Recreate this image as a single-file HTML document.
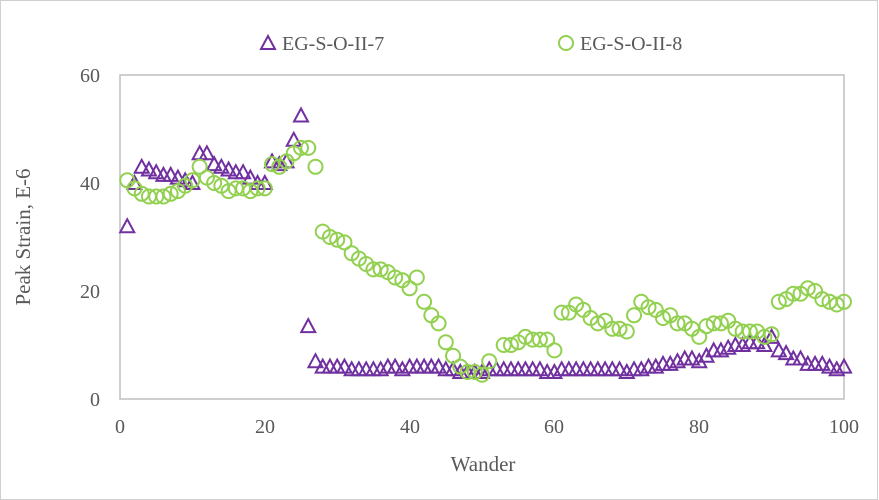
<!DOCTYPE html><html><head><meta charset="utf-8"><style>body{margin:0;background:#fff}svg{display:block}text{font-family:"Liberation Serif",serif;fill:#595959}</style></head><body>
<svg id="s" width="879" height="500" xmlns="http://www.w3.org/2000/svg">
<rect x="0.5" y="0.5" width="877" height="499" fill="#fff" stroke="#d0d0d0"/>
<rect x="120" y="75" width="724" height="324" fill="none" stroke="#bfbfbf" stroke-width="1.5"/>
<g font-size="20" text-anchor="end">
<text x="100" y="406">0</text><text x="100" y="298">20</text><text x="100" y="190">40</text><text x="100" y="82">60</text></g>
<g font-size="20" text-anchor="middle">
<text x="120" y="433">0</text><text x="265" y="433">20</text><text x="410" y="433">40</text><text x="554" y="433">60</text><text x="699" y="433">80</text><text x="844" y="433">100</text>
<text x="483" y="471" font-size="21">Wander</text></g>
<text transform="translate(30,237) rotate(-90)" font-size="21" text-anchor="middle">Peak Strain, E-6</text>
<path d="M268,36 L275,49 L261,49 Z" fill="none" stroke="#7030a0" stroke-width="2"/>
<text x="282" y="50" font-size="20">EG-S-O-II-7</text>
<circle cx="566" cy="43" r="7" fill="none" stroke="#92d050" stroke-width="2"/>
<text x="580" y="50" font-size="20">EG-S-O-II-8</text>
<g id="g"></g>
</svg>
<script>
var t=[32,40,43,42.5,42,41.5,41.5,41,40.5,40,45.5,45.5,43.5,43,42.5,42,42,41,40,40,44,43.5,44,48,52.5,13.5,7,6,6,6,6,5.5,5.5,5.5,5.5,5.5,6,6,5.5,6,6,6,6,6,5.5,5.5,5,5,5,5,5.5,5.5,5.5,5.5,5.5,5.5,5.5,5.5,5,5,5.5,5.5,5.5,5.5,5.5,5.5,5.5,5.5,5.5,5,5.5,5.5,6,6,6.5,6.5,7,7.5,7.5,7,8,9,9,9.5,10,10,10.5,10.5,10,11.5,9,8.5,7.5,7.5,6.5,6.5,6.5,6,5.5,6];
var c=[40.5,39,38,37.5,37.5,37.5,38,38.5,39.5,40.5,43,41,40,39.5,38.5,39,39,38.5,39,39,43.5,43,44,45.5,46.5,46.5,43,31,30,29.5,29,27,26,25,24,24,23.5,22.5,22,20.5,22.5,18,15.5,14,10.5,8,6,5,5,4.5,7,null,10,10,10.5,11.5,11,11,11,9,16,16,17.5,16.5,15,14,14.5,13,13,12.5,15.5,18,17,16.5,15,15.5,14,14,13,11.5,13.5,14,14,14.5,13,12.5,12.5,12.5,11.5,12,18,18.5,19.5,19.5,20.5,20,18.5,18,17.5,18];
var h='';function X(i){return 120+7.24*i}function Y(v){return 399-5.4*v}
t.forEach(function(v,k){var x=X(k+1),y=Y(v);h+='<path d="M'+x+','+(y-7)+' L'+(x+7)+','+(y+6)+' L'+(x-7)+','+(y+6)+' Z" fill="none" stroke="#7030a0" stroke-width="2"/>'});
c.forEach(function(v,k){if(v==null)return;h+='<circle cx="'+X(k+1)+'" cy="'+Y(v)+'" r="7" fill="none" stroke="#92d050" stroke-width="2"/>'});
document.getElementById('g').innerHTML=h;
</script></body></html>
